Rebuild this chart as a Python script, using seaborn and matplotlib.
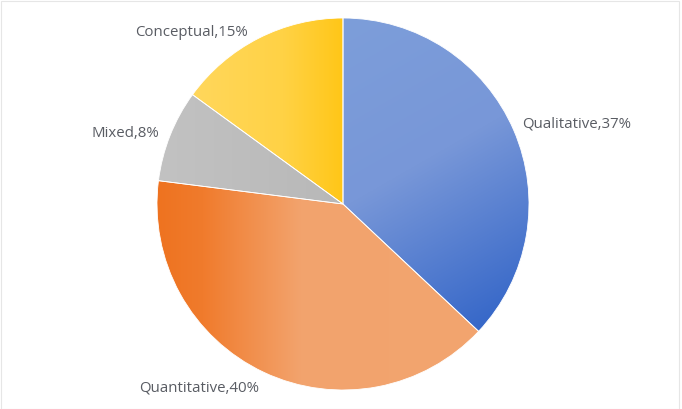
import numpy as np
import matplotlib
matplotlib.use("Agg")
import matplotlib.pyplot as plt
import seaborn as sns
from matplotlib.colors import to_rgb
from matplotlib.patches import Rectangle

sns.set_theme(style="white")
plt.rcParams['font.family'] = ['Open Sans', 'DejaVu Sans']

categories = ["Qualitative", "Quantitative", "Mixed", "Conceptual"]
shares = [37, 40, 8, 15]
labels = [f"{c},{v}%" for c, v in zip(categories, shares)]

# gradient specs: (direction angle deg, [(t, color), ...])
gradients = [
    (-60, [(0.0, "#7D9EDA"), (0.45, "#7897D8"), (1.0, "#2C60C6")]),
    (0, [(0.0, "#EE721F"), (0.15, "#F07B2C"), (0.45, "#F3A36D"), (1.0, "#F2A56F")]),
    (0, [(0.0, "#C2C2C2"), (1.0, "#B8B8B8")]),
    (0, [(0.0, "#FFD75C"), (0.6, "#FFD245"), (1.0, "#FFC617")]),
]

W, H = 682, 410
fig = plt.figure(figsize=(W / 100, H / 100), dpi=100)
fig.patch.set_facecolor("white")
cx, cy, r = 343, 205, 186
ax = fig.add_axes([(cx - r) / W, (H - cy - r) / H, 2 * r / W, 2 * r / H])

wedges, texts = ax.pie(shares, labels=labels, startangle=90, counterclock=False,
                       labeldistance=1.06, radius=1.0,
                       wedgeprops=dict(edgecolor="white", linewidth=0.6),
                       textprops=dict(color="#595C63", fontsize=10.8))

for w, (ang, stops) in zip(wedges, gradients):
    path = w.get_path()
    verts = w.get_transform().transform(path.vertices)
    verts = ax.transData.inverted().transform(verts)
    x0, y0 = verts.min(axis=0)
    x1, y1 = verts.max(axis=0)
    n = 200
    xs = np.linspace(x0, x1, n)
    ys = np.linspace(y1, y0, n)
    X, Y = np.meshgrid(xs, ys)
    d = np.array([np.cos(np.radians(ang)), np.sin(np.radians(ang))])
    proj = X * d[0] + Y * d[1]
    t = (proj - proj.min()) / (proj.max() - proj.min())
    ts = [s[0] for s in stops]
    cols = np.array([to_rgb(s[1]) for s in stops])
    img = np.stack([np.interp(t, ts, cols[:, k]) for k in range(3)], axis=-1)
    im = ax.imshow(img, extent=(x0, x1, y0, y1), aspect="auto", zorder=w.get_zorder() - 0.1,
                   interpolation="bilinear")
    im.set_clip_path(w)
    w.set_facecolor("none")

# nudge labels as in reference (offsets in pixels)
nudges = [(-2, 3), (0, -5), (0, -1), (None, -3)]
for txt, (nx, ny) in zip(texts, nudges):
    tx, ty = txt.get_position()
    if nx is None:
        tx = -95 / r
    else:
        tx = tx + nx / r
    txt.set_position((tx, ty + ny / r))

ax.set_xlim(-1, 1)
ax.set_ylim(-1, 1)
ax.set_aspect("equal")
ax.axis("off")

fig.patches.append(Rectangle((0.5 / W, 0.5 / H), 1 - 4 / W, 1 - 2 / H, transform=fig.transFigure,
                             fill=False, edgecolor="#E6E6E6", linewidth=0.8))

fig.savefig("out.png", dpi=100, facecolor="white")
